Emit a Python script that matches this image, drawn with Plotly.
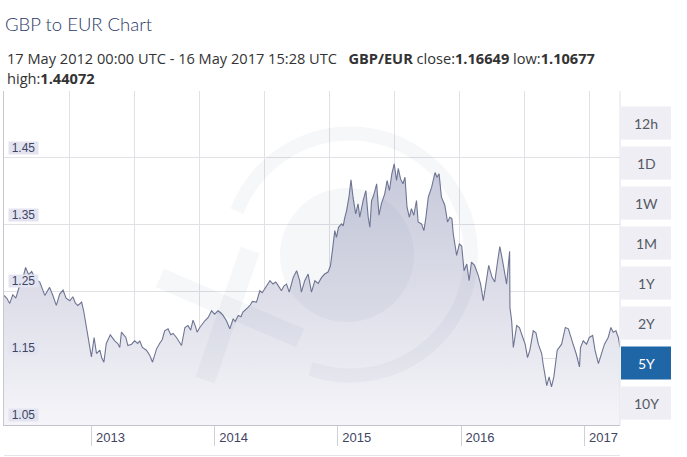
import math
import plotly.graph_objects as go

# ---------------- data ----------------
DATES = [
    "2012-05-17", "2012-05-25", "2012-06-03", "2012-06-12", "2012-06-21", "2012-06-30",
    "2012-07-08", "2012-07-20", "2012-07-29", "2012-08-07", "2012-08-19", "2012-08-31",
    "2012-09-15", "2012-09-29", "2012-10-08", "2012-10-19", "2012-10-29", "2012-11-08",
    "2012-11-17", "2012-11-28", "2012-12-07", "2012-12-15", "2012-12-22",
    "2013-01-02", "2013-01-08", "2013-01-16", "2013-01-23", "2013-01-31", "2013-02-08",
    "2013-02-15", "2013-02-25", "2013-03-03", "2013-03-09", "2013-03-16", "2013-03-28",
    "2013-04-04", "2013-04-10", "2013-04-19", "2013-04-25", "2013-04-30", "2013-05-07",
    "2013-05-13", "2013-05-19", "2013-05-30", "2013-06-08", "2013-06-17", "2013-06-23",
    "2013-07-01", "2013-07-13", "2013-07-23", "2013-07-31", "2013-08-12", "2013-08-21",
    "2013-08-29", "2013-09-05", "2013-09-15", "2013-09-23", "2013-09-30", "2013-10-10",
    "2013-10-17", "2013-10-25", "2013-11-04", "2013-11-13", "2013-11-21", "2013-11-28",
    "2013-12-05", "2013-12-10", "2013-12-18", "2013-12-26",
    "2014-01-02", "2014-01-12", "2014-01-22", "2014-01-31", "2014-02-10", "2014-02-18",
    "2014-02-25", "2014-03-07", "2014-03-17", "2014-03-27", "2014-04-02", "2014-04-11",
    "2014-04-19", "2014-04-25", "2014-05-03", "2014-05-10", "2014-05-17", "2014-05-23",
    "2014-06-04", "2014-06-14", "2014-06-21", "2014-06-29", "2014-07-06", "2014-07-14",
    "2014-07-23", "2014-07-31", "2014-08-07", "2014-08-17", "2014-08-24", "2014-09-01",
    "2014-09-09", "2014-09-15", "2014-09-21", "2014-10-01", "2014-10-06", "2014-10-10",
    "2014-10-15", "2014-10-25", "2014-11-04", "2014-11-09", "2014-11-14", "2014-11-24",
    "2014-12-04", "2014-12-14", "2014-12-23",
    "2015-01-02", "2015-01-09", "2015-01-15", "2015-01-22", "2015-01-27", "2015-02-02",
    "2015-02-11", "2015-02-16", "2015-02-20", "2015-02-26", "2015-03-05", "2015-03-11",
    "2015-03-17", "2015-03-25", "2015-04-01", "2015-04-06", "2015-04-16", "2015-04-24",
    "2015-05-01", "2015-05-06", "2015-05-11", "2015-05-16", "2015-05-21", "2015-05-26",
    "2015-06-02", "2015-06-09", "2015-06-19", "2015-06-26", "2015-07-03", "2015-07-10",
    "2015-07-17", "2015-07-24", "2015-07-29", "2015-08-05", "2015-08-12", "2015-08-18",
    "2015-08-24", "2015-08-31", "2015-09-06", "2015-09-13", "2015-09-21", "2015-09-26",
    "2015-10-06", "2015-10-13", "2015-10-19", "2015-10-26", "2015-11-05", "2015-11-15",
    "2015-11-21", "2015-11-27", "2015-12-04", "2015-12-10", "2015-12-14", "2015-12-22",
    "2015-12-29",
    "2016-01-04", "2016-01-08", "2016-01-18", "2016-01-26", "2016-02-02", "2016-02-09",
    "2016-02-17", "2016-02-24", "2016-03-02", "2016-03-11", "2016-03-22", "2016-03-29",
    "2016-04-06", "2016-04-14", "2016-04-22", "2016-05-02", "2016-05-10", "2016-05-18",
    "2016-05-25", "2016-06-02", "2016-06-09", "2016-06-14", "2016-06-23", "2016-06-24",
    "2016-06-29", "2016-07-04", "2016-07-14", "2016-07-22", "2016-08-01", "2016-08-08",
    "2016-08-15", "2016-08-22", "2016-09-01", "2016-09-09", "2016-09-16", "2016-09-26",
    "2016-09-30", "2016-10-06", "2016-10-11", "2016-10-18", "2016-10-25", "2016-11-01",
    "2016-11-07", "2016-11-11", "2016-11-24", "2016-12-05", "2016-12-14", "2016-12-21",
    "2016-12-28",
    "2017-01-06", "2017-01-16", "2017-01-19", "2017-01-27", "2017-02-06", "2017-02-14",
    "2017-02-24", "2017-03-03", "2017-03-13", "2017-03-23", "2017-03-31", "2017-04-11",
    "2017-04-19", "2017-04-26", "2017-05-04", "2017-05-11", "2017-05-16",
]

RATES = [
    1.244, 1.240, 1.232, 1.245, 1.240, 1.255,
    1.262, 1.286, 1.275, 1.280, 1.268, 1.264,
    1.244, 1.256, 1.245, 1.229, 1.246, 1.252,
    1.240, 1.236, 1.242, 1.232, 1.229,
    1.234, 1.221, 1.196, 1.175, 1.152, 1.181,
    1.157, 1.162, 1.150, 1.144, 1.172, 1.185,
    1.180, 1.176, 1.172, 1.166, 1.189, 1.184,
    1.181, 1.169, 1.171, 1.176, 1.172, 1.176,
    1.166, 1.162, 1.154, 1.144, 1.164, 1.172,
    1.178, 1.191, 1.194, 1.185, 1.187, 1.181,
    1.176, 1.169, 1.196, 1.199, 1.192, 1.207,
    1.198, 1.189, 1.196, 1.202,
    1.206, 1.211, 1.221, 1.216, 1.221, 1.218,
    1.214, 1.206, 1.194, 1.209, 1.205, 1.214,
    1.212, 1.219, 1.222, 1.226, 1.230, 1.235,
    1.234, 1.251, 1.248, 1.254, 1.260, 1.266,
    1.261, 1.264, 1.259, 1.251, 1.258, 1.261,
    1.249, 1.262, 1.271, 1.281, 1.272, 1.266,
    1.249, 1.266, 1.276, 1.262, 1.249, 1.266,
    1.262, 1.271, 1.276,
    1.279, 1.288, 1.311, 1.341, 1.331, 1.346,
    1.351, 1.348, 1.359, 1.371, 1.391, 1.417,
    1.391, 1.366, 1.381, 1.361, 1.386, 1.401,
    1.361, 1.346, 1.386, 1.392, 1.401, 1.411,
    1.364, 1.381, 1.396, 1.416, 1.401, 1.426,
    1.441, 1.416, 1.434, 1.418, 1.411, 1.421,
    1.376, 1.361, 1.374, 1.364, 1.386, 1.354,
    1.351, 1.341, 1.361, 1.391, 1.406, 1.428,
    1.421, 1.426, 1.391, 1.385, 1.379, 1.354,
    1.361,
    1.359, 1.336, 1.304, 1.321, 1.318, 1.281,
    1.291, 1.266, 1.294, 1.289, 1.274, 1.261,
    1.236, 1.264, 1.289, 1.271, 1.264, 1.294,
    1.317, 1.296, 1.271, 1.261, 1.310, 1.226,
    1.206, 1.166, 1.199, 1.196, 1.181, 1.171,
    1.151, 1.162, 1.191, 1.188, 1.171, 1.157,
    1.142, 1.122, 1.109, 1.122, 1.107, 1.122,
    1.142, 1.162, 1.171, 1.196, 1.194, 1.184,
    1.171,
    1.157, 1.137, 1.166, 1.176, 1.171, 1.181,
    1.184, 1.162, 1.142, 1.157, 1.171, 1.181,
    1.196, 1.189, 1.191, 1.181, 1.166,
]

X_RANGE = ["2012-05-17", "2017-05-16"]
Y_RANGE = [1.05, 1.55]
Y_GRID = [1.05, 1.15, 1.25, 1.35, 1.45, 1.55]
Y_LABELS = ["1.05", "1.15", "1.25", "1.35", "1.45"]
YEAR_TICKS = ["2013-01-01", "2014-01-01", "2015-01-01", "2016-01-01", "2017-01-01"]
YEAR_LABELS = ["2013", "2014", "2015", "2016", "2017"]
YEAR_AXIS_RANGE = ["2012-04-17", "2017-04-16"]
BUTTONS = ["12h", "1D", "1W", "1M", "1Y", "2Y", "5Y", "10Y"]
ACTIVE_BUTTON = "5Y"

TITLE = "GBP to EUR Chart"
SUBTITLE_1 = ("17 May 2012 00:00 UTC - 16 May 2017 15:28 UTC\u00a0\u00a0\u00a0"
              "<b>GBP/EUR</b> close:<b>1.16649</b> low:<b>1.10677</b>")
SUBTITLE_2 = "high:<b>1.44072</b>"

# ---------------- layout geometry ----------------
W, H = 687, 457
ML, MR, MT, MB = 4, 67, 91, 32
PW, PH = W - ML - MR, H - MT - MB
GRID_STEP_PX = 65


def px(x):
    return (x - ML) / PW


def py(y):
    return (H - MB - y) / PH


fig = go.Figure()
fig.add_trace(go.Scatter(
    x=DATES, y=RATES, mode="lines",
    line=dict(color="#6e7593", width=1.1),
    fill="tozeroy",
    fillgradient=dict(type="vertical", start=1.05, stop=1.45,
                      colorscale=[[0, "#f5f5f9"], [0.5, "#dcdde8"], [1, "#c5c8da"]]),
    hoverinfo="x+y", showlegend=False,
))
# invisible helper traces so the overlay axes (grid / year ticks) are drawn
fig.add_trace(go.Scatter(x=[0], y=[Y_RANGE[0]], xaxis="x2", mode="markers",
                         marker=dict(opacity=0), hoverinfo="skip", showlegend=False))
fig.add_trace(go.Scatter(x=YEAR_TICKS, y=[Y_RANGE[0]] * len(YEAR_TICKS), xaxis="x3",
                         mode="markers", marker=dict(opacity=0), hoverinfo="skip",
                         showlegend=False))

shapes = []
# watermark (faint "xe" logo)
wm = "rgba(110,115,150,0.06)"
cx, cy, r = 350, 254.5, 121
pts = []
for k in range(0, 91):
    a = math.radians(-109 + k * (268 / 90))
    pts.append((px(cx + r * math.cos(a)), py(cy - r * math.sin(a))))
path = "M " + " L ".join(f"{a:.4f},{b:.4f}" for a, b in pts)
shapes.append(dict(type="path", path=path, xref="paper", yref="paper",
                   line=dict(color=wm, width=14), layer="above"))
shapes.append(dict(type="circle", xref="paper", yref="paper",
                   x0=px(280), x1=px(414), y0=py(322), y1=py(188),
                   fillcolor=wm, line=dict(width=0), layer="above"))
shapes.append(dict(type="line", xref="paper", yref="paper",
                   x0=px(160), y0=py(278), x1=px(300), y1=py(338),
                   line=dict(color=wm, width=20), layer="above"))
shapes.append(dict(type="line", xref="paper", yref="paper",
                   x0=px(250), y0=py(250), x1=px(205), y1=py(380),
                   line=dict(color=wm, width=20), layer="above"))
# right border of plot and navigator line below
shapes.append(dict(type="line", xref="paper", yref="paper", x0=1, x1=1, y0=0, y1=1,
                   line=dict(color="#e2e2e8", width=1)))
shapes.append(dict(type="line", xref="paper", yref="paper", x0=0, x1=1,
                   y0=py(455.5), y1=py(455.5), line=dict(color="#e4e4ea", width=1)))

annotations = []
# range buttons
for i, lab in enumerate(BUTTONS):
    c = 123 + 40 * i
    active = lab == ACTIVE_BUTTON
    shapes.append(dict(type="rect", xref="paper", yref="paper",
                       x0=px(621), x1=px(671), y0=py(c + 16.5), y1=py(c - 16.5),
                       fillcolor="#1f66a6" if active else "#eeeef4", line=dict(width=0)))
    annotations.append(dict(text=lab, xref="paper", yref="paper", x=px(646), y=py(c),
                            showarrow=False, xanchor="center", yanchor="middle",
                            font=dict(family="Lato", size=14,
                                      color="#ffffff" if active else "#555a66")))

# y labels in boxes
for v, lab in zip(Y_GRID, Y_LABELS):
    annotations.append(dict(text=lab, xref="paper", yref="y", x=px(8), y=v,
                            xanchor="left", yanchor="bottom", yshift=3,
                            showarrow=False, bgcolor="#e3e4f0", borderpad=0,
                            width=29, height=12, align="center",
                            font=dict(family="Liberation Sans", size=12, color="#3d4466")))

# subtitle lines
annotations.append(dict(text=SUBTITLE_1, xref="paper", yref="paper", x=px(5), y=py(58),
                        xanchor="left", yanchor="middle", showarrow=False,
                        font=dict(family="Open Sans", size=14.6, color="#333333")))
annotations.append(dict(text=SUBTITLE_2, xref="paper", yref="paper", x=px(5), y=py(78),
                        xanchor="left", yanchor="middle", showarrow=False,
                        font=dict(family="Open Sans", size=14.6, color="#333333")))

fig.update_layout(
    width=W, height=H,
    margin=dict(l=ML, r=MR, t=MT, b=MB),
    paper_bgcolor="#ffffff", plot_bgcolor="#ffffff",
    title=dict(text=TITLE, x=5 / W, xanchor="left", xref="container",
               y=1 - 25 / H, yanchor="middle", yref="container",
               font=dict(family="Lato", size=18.5, color="#2b3966", weight=300)),
    xaxis=dict(type="date", range=X_RANGE, showgrid=False, showticklabels=False,
               ticks="", showline=True, linecolor="#c2c2cc", linewidth=1, zeroline=False),
    xaxis2=dict(overlaying="x", anchor="y", side="bottom", range=[0, PW / GRID_STEP_PX],
                dtick=1, tick0=0, showgrid=True, gridcolor="#e0e0e5", gridwidth=1,
                showticklabels=False, ticks="", zeroline=False, showline=False),
    xaxis3=dict(type="date", overlaying="x", anchor="y", side="bottom",
                range=YEAR_AXIS_RANGE, tickmode="array", tickvals=YEAR_TICKS,
                ticktext=YEAR_LABELS, ticks="outside", ticklen=20, tickwidth=1,
                tickcolor="#d0d0d8", showgrid=False, zeroline=False, showline=False,
                ticklabelshift=19, ticklabelstandoff=-20,
                tickfont=dict(family="Liberation Sans", size=13, color="#3f4563")),
    yaxis=dict(range=Y_RANGE, tickmode="array", tickvals=Y_GRID, showticklabels=False,
               ticks="", showgrid=True, gridcolor="#e0e0e5", gridwidth=1,
               showline=True, linecolor="#c8c8d0", linewidth=1, zeroline=False),
    shapes=shapes,
    annotations=annotations,
    hovermode="x",
)

fig.write_html("out.html", config={"displayModeBar": False},
               post_script="document.body.style.margin='0';")
